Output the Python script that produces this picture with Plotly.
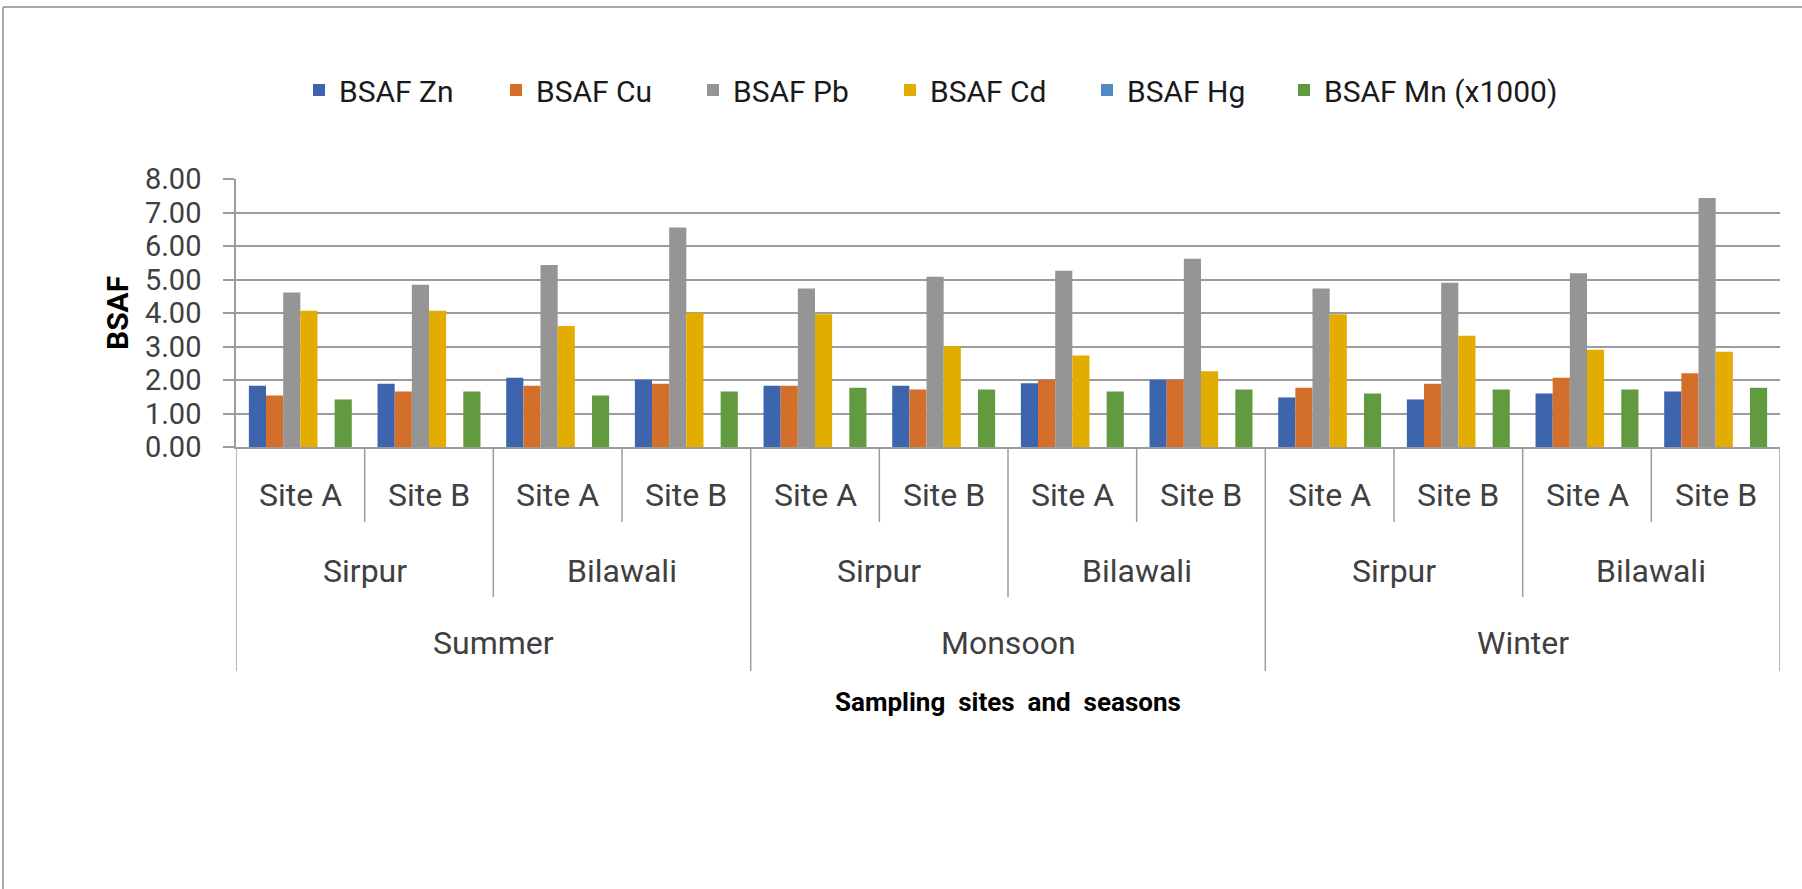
import plotly.graph_objects as go

# ---------------- data ----------------
seasons = ["Summer", "Monsoon", "Winter"]
locations = ["Sirpur", "Bilawali"]
sites = ["Site A", "Site B"]

series_names = ["BSAF Zn", "BSAF Cu", "BSAF Pb", "BSAF Cd", "BSAF Hg", "BSAF Mn (x1000)"]

# order: Summer(Sirpur A,B, Bilawali A,B), Monsoon(...), Winter(...)
bsaf_zn = [1.83, 1.89, 2.07, 2.01, 1.83, 1.83, 1.90, 2.01, 1.48, 1.42, 1.60, 1.66]
bsaf_cu = [1.54, 1.66, 1.83, 1.89, 1.83, 1.72, 2.01, 2.01, 1.77, 1.89, 2.07, 2.20]
bsaf_pb = [4.61, 4.84, 5.43, 6.55, 4.73, 5.08, 5.26, 5.62, 4.73, 4.90, 5.19, 7.43]
bsaf_cd = [4.07, 4.07, 3.61, 4.01, 3.96, 3.01, 2.73, 2.26, 3.96, 3.32, 2.90, 2.84]
bsaf_hg = [0.0, 0.0, 0.0, 0.0, 0.0, 0.0, 0.0, 0.0, 0.0, 0.0, 0.0, 0.0]
bsaf_mn = [1.42, 1.66, 1.54, 1.66, 1.77, 1.72, 1.66, 1.72, 1.60, 1.72, 1.72, 1.77]

colors = ["#3D65AD", "#D36F2B", "#959595", "#E2AC00", "#4F8AC0", "#629A3F"]

y_ticks = [0, 1, 2, 3, 4, 5, 6, 7, 8]

# ---------------- layout geometry ----------------
W, H = 1802, 889
L, R, T, B = 236, 22, 179, 442
PW = W - L - R
PH = H - T - B

FONT = "Roboto, Liberation Sans, Arial, sans-serif"
GRID = "#9C9C9C"
TXT = "#404040"


def py(pix):
    return (H - B - pix) / PH


def px(pix):
    return (pix - L) / PW


# category positions built from the hierarchy
cats = []
for s in seasons:
    for loc in locations:
        for st in sites:
            cats.append((s, loc, st))
xpos = list(range(len(cats)))

fig = go.Figure()
all_series = [bsaf_zn, bsaf_cu, bsaf_pb, bsaf_cd, bsaf_hg, bsaf_mn]
for name, vals, col in zip(series_names, all_series, colors):
    fig.add_trace(go.Bar(
        x=xpos, y=vals, name=name,
        marker=dict(color=col, line=dict(width=0)),
    ))
# invisible spacer entry so the last legend label is not clipped
fig.add_trace(go.Scatter(x=[None], y=[None], mode="markers", name=" ",
                         marker=dict(opacity=0), hoverinfo="skip"))

annotations = []
shapes = []

n_site = len(sites)
n_loc = len(locations)
CAT_SIZE = 32
# site labels
for i, (s, loc, st) in enumerate(cats):
    annotations.append(dict(x=i, y=py(495), xref="x", yref="paper", text=st,
                            showarrow=False, yanchor="middle",
                            font=dict(family=FONT, size=CAT_SIZE, color=TXT)))
# location labels
for j in range(len(seasons) * n_loc):
    loc = locations[j % n_loc]
    xc = j * n_site + (n_site - 1) / 2
    annotations.append(dict(x=xc, y=py(571), xref="x", yref="paper", text=loc,
                            showarrow=False, yanchor="middle",
                            font=dict(family=FONT, size=CAT_SIZE, color=TXT)))
# season labels
for k, s in enumerate(seasons):
    xc = k * n_site * n_loc + (n_site * n_loc - 1) / 2
    annotations.append(dict(x=xc, y=py(643), xref="x", yref="paper", text=s,
                            showarrow=False, yanchor="middle",
                            font=dict(family=FONT, size=CAT_SIZE, color=TXT)))

# separator lines
for b in range(len(cats) + 1):
    xb = b - 0.5
    if b % (n_site * n_loc) == 0:
        ybot = py(671)
    elif b % n_site == 0:
        ybot = py(597)
    else:
        ybot = py(522)
    shapes.append(dict(type="line", xref="x", yref="paper", x0=xb, x1=xb,
                       y0=0, y1=ybot, line=dict(color=GRID, width=1.5)))

# outer frame (top and left only)
shapes.append(dict(type="line", xref="paper", yref="paper", x0=px(3), x1=px(W),
                   y0=py(7), y1=py(7), line=dict(color="#8C8C8C", width=1.5)))
shapes.append(dict(type="line", xref="paper", yref="paper", x0=px(3), x1=px(3),
                   y0=py(7), y1=py(H), line=dict(color="#8C8C8C", width=1.5)))

# axis titles
annotations.append(dict(x=0.5, y=py(702), xref="paper", yref="paper",
                        text="<b>Sampling  sites  and  seasons</b>", showarrow=False,
                        yanchor="middle",
                        font=dict(family=FONT, size=26, color="#000000")))
annotations.append(dict(x=px(117), y=0.5, xref="paper", yref="paper",
                        text="<b>BSAF</b>", showarrow=False, textangle=-90,
                        xanchor="center", yanchor="middle",
                        font=dict(family=FONT, size=30, color="#000000")))

fig.update_layout(
    width=W, height=H,
    margin=dict(l=L, r=R, t=T, b=B, autoexpand=False),
    paper_bgcolor="white", plot_bgcolor="white",
    barmode="group", bargap=0.2, bargroupgap=0,
    showlegend=True,
    legend=dict(orientation="h", x=px(299), xanchor="left", y=py(90), yanchor="middle",
                font=dict(family=FONT, size=30, color="#1A1A1A"),
                entrywidth=152, entrywidthmode="pixels", itemwidth=30,
                bgcolor="rgba(0,0,0,0)", traceorder="normal"),
    xaxis=dict(range=[-0.5, len(cats) - 0.5], showticklabels=False, ticks="",
               showgrid=False, zeroline=False, showline=True, linecolor=GRID,
               linewidth=1.5, fixedrange=True),
    yaxis=dict(range=[0, 8], tickvals=y_ticks, tickformat=".2f",
               ticks="outside", ticklen=11, tickcolor=GRID, tickwidth=1.5,
               showgrid=True, gridcolor=GRID, gridwidth=1.5,
               showline=True, linecolor=GRID, linewidth=1.5, zeroline=False,
               ticklabelstandoff=16,
               tickfont=dict(family=FONT, size=29, color=TXT)),
    annotations=annotations,
    shapes=shapes,
)

fig.write_html("out.html")
